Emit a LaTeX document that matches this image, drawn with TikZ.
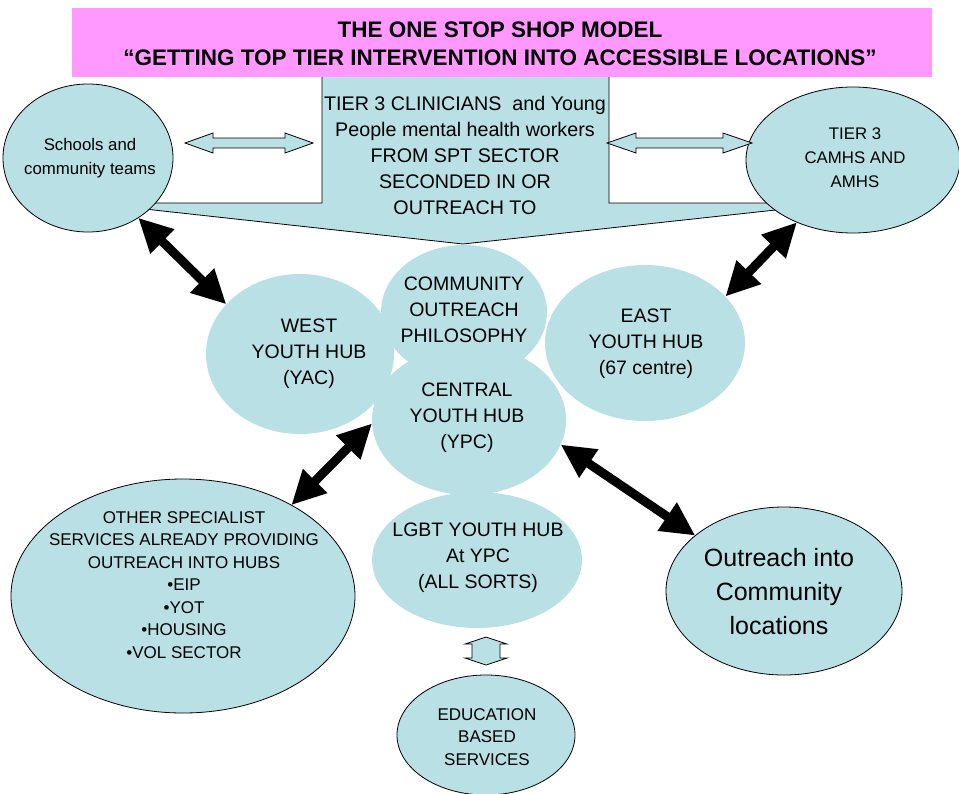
\documentclass[tikz,border=0pt]{standalone}
\usepackage{fontspec}
\setmainfont{Liberation Sans}
\usetikzlibrary{arrows.meta,shapes.geometric}
\definecolor{hub}{RGB}{185,224,228}
\definecolor{banner}{RGB}{255,153,255}
\begin{document}
\begin{tikzpicture}[x=1pt,y=-1pt,
  blob/.style={ellipse, fill=hub, inner sep=0pt, outer sep=0pt},
  oblob/.style={blob, draw=black, line width=0.8pt},
  txt/.style={align=center, inner sep=0pt, font=\fontsize{17}{22.5}\selectfont},
  big/.style={align=center, inner sep=0pt, font=\fontsize{19.5}{26}\selectfont},
  hollow/.style={draw=black, fill=hub, line width=0.8pt, line join=miter},
  bidir/.style={black, line width=9pt, {Triangle[length=34pt,width=32pt]}-{Triangle[length=34pt,width=32pt]}},
]
\path[use as bounding box] (0,0) rectangle (959,793);
\clip (0,0) rectangle (959,793);

% callout
\draw[fill=hub, line width=0.8pt, line join=miter] (322,76) -- (609,76) -- (609,203) -- (840,203) -- (463,244) -- (90,203) -- (322,203) -- cycle;
\node[big, font=\fontsize{19.7}{26}\selectfont] (clin) at (465,155) {TIER 3 CLINICIANS~ and Young\\People mental health workers\\FROM SPT SECTOR\\SECONDED IN OR\\OUTREACH TO};

% banner
\fill[banner] (72,8) rectangle (932,77);
\node[align=center, inner sep=0pt, font=\bfseries\fontsize{22.5}{28}\selectfont] (title) at (500,44) {THE ONE STOP SHOP MODEL\\“GETTING TOP TIER INTERVENTION INTO ACCESSIBLE LOCATIONS”};

% outer ellipses
\node[oblob, minimum width=170, minimum height=148] (schools) at (88,158) {};
\node[txt, font=\fontsize{16.8}{24}\selectfont] at (90,158) {Schools and\\community teams};
\node[oblob, minimum width=214, minimum height=146] (tier) at (853,160) {};
\node[txt, font=\fontsize{16.8}{24}\selectfont] at (855,158) {TIER 3\\CAMHS AND\\AMHS};

% hubs
\node[blob, minimum width=188, minimum height=160] (west) at (300,354) {};
\node[blob, minimum width=200, minimum height=156] (east) at (645,343) {};
\node[blob, minimum width=166, minimum height=134] (comm) at (464,312) {};
\node[blob, minimum width=194, minimum height=150] (central) at (469,420) {};
\node[blob, minimum width=210, minimum height=136] (lgbt) at (477,560) {};
\node[big] at (309,354) {WEST\\YOUTH HUB\\(YAC)};
\node[big] at (646,344) {EAST\\YOUTH HUB\\(67 centre)};
\node[big] at (464,310) {COMMUNITY\\OUTREACH\\PHILOSOPHY};
\node[big] at (467,418) {CENTRAL\\YOUTH HUB\\(YPC)};
\node[big] at (478,558) {LGBT YOUTH HUB\\At YPC\\(ALL SORTS)};

% lower ellipses
\node[oblob, minimum width=344, minimum height=234] (other) at (183,596) {};
\node[txt] at (184,585) {OTHER SPECIALIST\\SERVICES ALREADY PROVIDING\\OUTREACH INTO HUBS\\•EIP\\•YOT\\•HOUSING\\•VOL SECTOR};
\node[oblob, minimum width=236, minimum height=168] (outreach) at (784,591) {};
\node[align=center, inner sep=0pt, font=\fontsize{25}{34}\selectfont] at (779,592) {Outreach into\\Community\\locations};
\node[oblob, minimum width=178, minimum height=120] (edu) at (486,735) {};
\node[txt] at (487,737) {EDUCATION\\BASED\\SERVICES};

% hollow arrows
\draw[hollow] (185,143) -- (213,133) -- (213,138) -- (285,138) -- (285,133) -- (313,143) -- (285,153) -- (285,148) -- (213,148) -- (213,153) -- cycle;
\draw[hollow] (607,143) -- (636,133) -- (636,138) -- (723,138) -- (723,133) -- (752,143) -- (723,153) -- (723,148) -- (636,148) -- (636,153) -- cycle;
\draw[hollow] (486,637) -- (507,644) -- (500,644) -- (500,658) -- (507,658) -- (486,665) -- (465,658) -- (472,658) -- (472,644) -- (465,644) -- cycle;

% black double arrows
\draw[bidir] (schools.-50.8) -- (west.146);
\draw[bidir] (tier.-132.4) -- (east.30.5);
\draw[bidir] (central.-178.2) -- (other.40.3);
\draw[bidir] (central.-15.7) -- (outreach.148.2);
\end{tikzpicture}
\end{document}
